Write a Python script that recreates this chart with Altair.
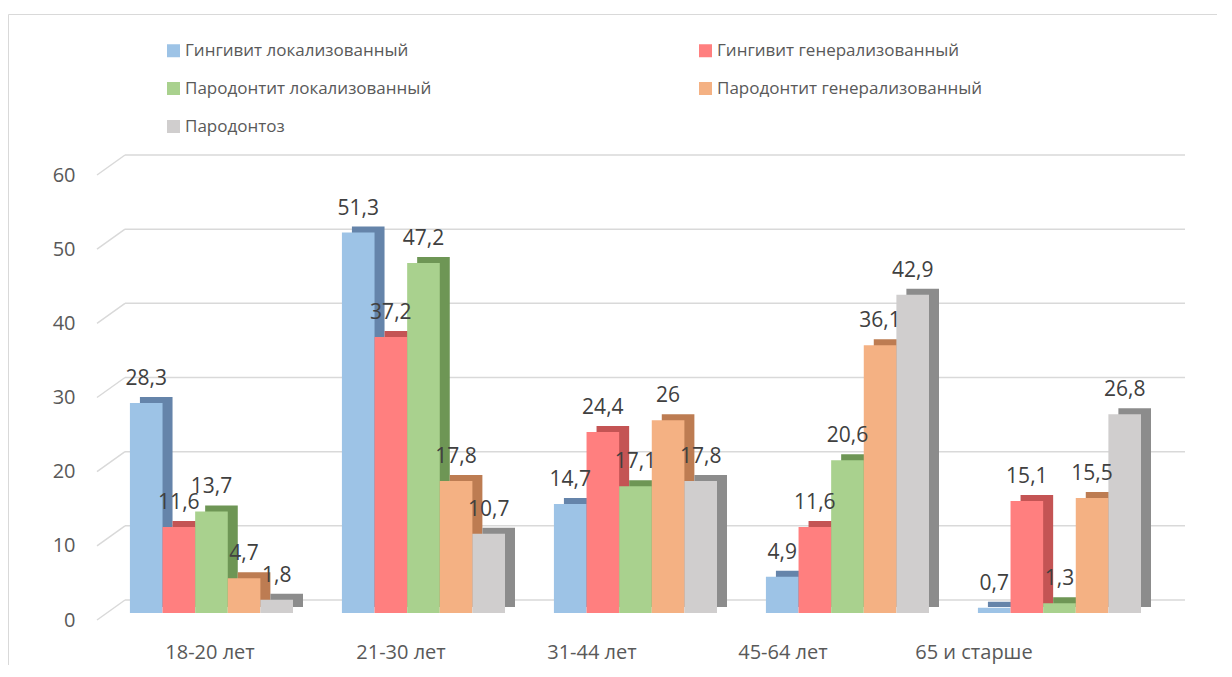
import altair as alt
import pandas as pd

categories = ["18-20 лет", "21-30 лет", "31-44 лет", "45-64 лет", "65 и старше"]
series = [
    "Гингивит локализованный",
    "Гингивит генерализованный",
    "Пародонтит локализованный",
    "Пародонтит генерализованный",
    "Пародонтоз",
]
ging_lok = [28.3, 51.3, 14.7, 4.9, 0.7]
ging_gen = [11.6, 37.2, 24.4, 11.6, 15.1]
parod_lok = [13.7, 47.2, 17.1, 20.6, 1.3]
parod_gen = [4.7, 17.8, 26.0, 36.1, 15.5]
parodontoz = [1.8, 10.7, 17.8, 42.9, 26.8]
y_ticks = [0, 10, 20, 30, 40, 50, 60]

front_colors = ["#9dc3e6", "#ff7f7f", "#a9d18e", "#f4b183", "#d0cece"]
side_colors = ["#6584aa", "#c45454", "#6e9655", "#bd7c52", "#8c8c8c"]

rows = []
for s, vals, side in zip(series, [ging_lok, ging_gen, parod_lok, parod_gen, parodontoz], side_colors):
    for c, v in zip(categories, vals):
        rows.append({"cat": c, "series": s, "value": v, "side": side,
                     "label": f"{v:g}".replace(".", ",")})
df = pd.DataFrame(rows)
ticks_df = pd.DataFrame({"t": y_ticks})
cat_df = pd.DataFrame({"cat": categories})

# legend is laid out column by column: order entries so it reads row by row
legend_order = [series[0], series[2], series[4], series[1], series[3]]
legend_colors = [front_colors[series.index(s)] for s in legend_order]

W, H = 1060, 445
FONT = "Open Sans"
DEPTH_X = 10

yscale = alt.Scale(domain=[0, 60], nice=False, zero=True)
y_axis = alt.Axis(values=y_ticks, grid=False, domain=False, ticks=False,
                  labelPadding=22, labelFontSize=20, labelColor="#595959", labelFont=FONT)

off_enc = alt.XOffset("series:N", sort=series,
                      scale=alt.Scale(domain=series, paddingInner=0, paddingOuter=0.75,
                                      align=0.673))


def bar_x(shift=0):
    return alt.X("cat:N", sort=categories,
                 scale=alt.Scale(type="band", domain=categories, paddingInner=0,
                                 paddingOuter=0, range=[shift, W + shift]),
                 axis=None, title=None)


base = alt.Chart(df)

frame = alt.Chart(ticks_df).transform_filter("datum.t == 0").mark_rect(
    fill=None, stroke="#d9d9d9", strokeWidth=1
).encode(x=alt.value(-88.5), x2=alt.value(1126), y=alt.value(-160.5), y2=alt.value(520))

grid = alt.Chart(ticks_df).mark_rule(color="#d9d9d9", strokeWidth=1.5, yOffset=-20).encode(
    x=alt.value(28), x2=alt.value(W + 28),
    y=alt.Y("t:Q", scale=yscale, axis=y_axis, title=None),
)
diag = alt.Chart(ticks_df).mark_rule(color="#d9d9d9", strokeWidth=1.5, y2Offset=-20).encode(
    x=alt.value(0), x2=alt.value(28),
    y=alt.Y("t:Q", scale=yscale, axis=y_axis, title=None),
    y2="t:Q",
)

cat_axis = alt.Chart(cat_df).mark_point(opacity=0).encode(
    x=alt.X("cat:N", sort=categories, title=None,
            scale=alt.Scale(type="band", domain=categories, paddingInner=0,
                            paddingOuter=0.275, align=17.5 / 105),
            axis=alt.Axis(domain=False, ticks=False, labelPadding=22, labelFontSize=20,
                          labelColor="#595959", labelFont=FONT, labelAngle=0)),
    y=alt.value(H),
)

back = base.mark_bar(yOffset=-13, y2Offset=-13).encode(
    x=bar_x(DEPTH_X),
    xOffset=off_enc,
    y=alt.Y("value:Q", scale=yscale, axis=y_axis, title=None),
    color=alt.Color("side:N", scale=None),
)

front = base.mark_bar(yOffset=-7, y2Offset=-7).encode(
    x=bar_x(0),
    xOffset=off_enc,
    y=alt.Y("value:Q", scale=yscale, axis=y_axis, title=None),
    color=alt.Color("series:N",
                    scale=alt.Scale(domain=legend_order, range=legend_colors),
                    legend=alt.Legend(title=None, orient="none", legendX=68, legendY=-133,
                                      columns=2, columnPadding=265, rowPadding=20,
                                      symbolType="square", symbolSize=169,
                                      symbolStrokeWidth=0, labelFontSize=17,
                                      labelFont=FONT, labelColor="#595959",
                                      labelLimit=400, padding=0, labelOffset=3)),
)

text = base.mark_text(baseline="alphabetic", dy=-25, fontSize=21, font=FONT,
                      color="#404040").encode(
    x=bar_x(0),
    xOffset=off_enc,
    y=alt.Y("value:Q", scale=yscale, axis=y_axis, title=None),
    text="label:N",
)

chart = alt.layer(frame, grid, diag, cat_axis, back, front, text).resolve_scale(
    x="independent"
).properties(
    width=W, height=H,
    autosize=alt.AutoSizeParams(type="none"),
    padding={"left": 89, "top": 167, "right": 60, "bottom": 45},
    background="white",
).configure_view(stroke=None)

chart.save("out.html", embed_options={"renderer": "svg", "actions": False})
